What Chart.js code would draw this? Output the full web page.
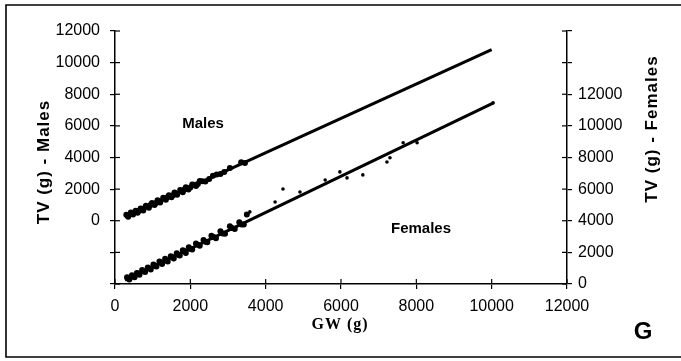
<!DOCTYPE html>
<html>
<head>
<meta charset="utf-8">
<script src="https://cdn.jsdelivr.net/npm/chart.js@4"></script>
<style>
  body { margin: 0; background: #fff; }
  #wrap { width: 681px; height: 361px; }
</style>
</head>
<body>
<div id="wrap"><canvas id="tvChart"></canvas></div>
<script>
// gutted weight vs total weight, males on the left axis, females on the right
const maleGW = [300, 330, 350, 420, 450, 480, 520, 550, 600, 640, 680, 720, 750, 820, 860, 900, 940, 980, 1050, 1090, 1130, 1170, 1200, 1280, 1320, 1350, 1390,
  1430, 1500, 1540, 1580, 1610, 1650, 1730, 1770, 1800, 1840, 1880, 1950, 2000, 2050, 2100, 2150, 2200, 2250, 2320, 2400, 2500, 2600, 2700, 2800, 2900, 3050, 3350, 3450];
const maleTV = [380, 330, 250, 520, 430, 400, 540, 640, 500, 630, 780, 760, 650, 950, 880, 820, 1000, 1130, 990, 1120, 1300, 1250, 1150, 1460, 1370, 1330, 1490,
  1620, 1480, 1610, 1790, 1730, 1640, 1950, 1860, 1800, 1980, 2120, 1980, 2110, 2300, 2270, 2200, 2320, 2520, 2500, 2480, 2640, 2850, 2930, 2950, 3080, 3330, 3700, 3650];

const femaleGW = [320, 350, 380, 450, 480, 520, 580, 610, 650, 720, 760, 800, 870, 900, 950, 1020, 1060, 1100, 1180, 1210, 1250, 1330, 1360, 1400, 1480, 1520, 1560,
  1640, 1680, 1720, 1800, 1840, 1880, 1960, 2000, 2050, 2150, 2200, 2250, 2350, 2400, 2450, 2560, 2620, 2680, 2800, 2860, 2920, 3050, 3110, 3180, 3300, 3360, 3420, 3500,
  3580, 4250, 4460, 4910, 5580, 5970, 6160, 6580, 7220, 7300, 7650, 8020, 10040];
const femaleTV = [420, 360, 280, 560, 470, 430, 700, 670, 590, 880, 800, 760, 1050, 1000, 920, 1230, 1140, 1100, 1420, 1360, 1270, 1590, 1480, 1430, 1760, 1710, 1620,
  1950, 1850, 1800, 2130, 2080, 1960, 2330, 2210, 2180, 2560, 2490, 2420, 2780, 2670, 2640, 3050, 2980, 2900, 3330, 3190, 3180, 3650, 3540, 3480, 3900, 3770, 3760, 4400,
  4560, 5190, 6010, 5820, 6580, 7090, 6710, 6900, 7720, 7980, 8930, 8930, 11460];

// regression lines (end points)
const maleFitGW = [270, 10000];
const maleFitTV = [250, 10820];
const femaleFitGW = [265, 10050];
const femaleFitTV = [250, 11450];

const xTicks = [0, 2000, 4000, 6000, 8000, 10000, 12000];

function pairs(xs, ys) {
  return xs.map((x, i) => ({ x: x, y: ys[i] }));
}

// the heavy cluster of small fish gets bigger dots, the odd large ones small marks
const dotSize = c => (c.raw && c.raw.x > 3550 ? 1.8 : 3);

const tickFont = { family: 'Liberation Sans, Arial, sans-serif', size: 16 };

// short tick marks on the inside of each axis so they cross the line
const innerTicks = {
  id: 'innerTicks',
  afterDraw(chart) {
    const ctx = chart.ctx;
    const area = chart.chartArea;
    ctx.save();
    ctx.strokeStyle = '#000';
    ctx.lineWidth = 1.2;
    ['x', 'y', 'y2'].forEach(id => {
      const s = chart.scales[id];
      s.ticks.forEach((t, i) => {
        const p = s.getPixelForTick(i);
        ctx.beginPath();
        if (id === 'x') { ctx.moveTo(p, area.bottom); ctx.lineTo(p, area.bottom - 5); }
        else if (id === 'y') { ctx.moveTo(area.left, p); ctx.lineTo(area.left + 5, p); }
        else { ctx.moveTo(area.right, p); ctx.lineTo(area.right - 5, p); }
        ctx.stroke();
      });
    });
    ctx.restore();
  }
};

// frame, axis titles and labels
const annotations = {
  id: 'annotations',
  afterDraw(chart) {
    const ctx = chart.ctx;
    ctx.save();
    ctx.strokeStyle = '#000';
    ctx.lineWidth = 1.6;
    ctx.beginPath();
    ctx.moveTo(681, 5); ctx.lineTo(6, 5); ctx.lineTo(6, 357); ctx.lineTo(681, 357);
    ctx.stroke();

    ctx.fillStyle = '#000';
    ctx.textAlign = 'center';
    ctx.textBaseline = 'middle';

    ctx.font = 'bold 17px Liberation Sans, Arial, sans-serif';
    ctx.letterSpacing = '1px';
    ctx.save();
    ctx.translate(44, 162);
    ctx.rotate(-Math.PI / 2);
    ctx.fillText('TV (g) - Males', 0, 0);
    ctx.restore();
    ctx.save();
    ctx.translate(652, 129);
    ctx.rotate(-Math.PI / 2);
    ctx.fillText('TV (g) - Females', 0, 0);
    ctx.restore();

    ctx.font = 'bold 16px Liberation Serif, Times New Roman, serif';
    ctx.fillText('GW (g)', 340, 325);

    ctx.letterSpacing = '0px';
    ctx.font = 'bold 15px Liberation Sans, Arial, sans-serif';
    ctx.fillText('Males', 203, 124);
    ctx.fillText('Females', 421, 229);

    ctx.font = 'bold 24px Liberation Sans, Arial, sans-serif';
    ctx.fillText('G', 643, 332);
    ctx.restore();
  }
};

new Chart(document.getElementById('tvChart'), {
  type: 'scatter',
  data: {
    datasets: [
      {
        label: 'Males',
        data: pairs(maleGW, maleTV),
        yAxisID: 'y',
        backgroundColor: '#000',
        borderColor: '#000',
        pointRadius: dotSize,
        borderWidth: 0
      },
      {
        label: 'Males fit',
        data: pairs(maleFitGW, maleFitTV),
        yAxisID: 'y',
        showLine: true,
        borderColor: '#000',
        borderWidth: 3,
        pointRadius: 0
      },
      {
        label: 'Females',
        data: pairs(femaleGW, femaleTV),
        yAxisID: 'y2',
        backgroundColor: '#000',
        borderColor: '#000',
        pointRadius: dotSize,
        borderWidth: 0
      },
      {
        label: 'Females fit',
        data: pairs(femaleFitGW, femaleFitTV),
        yAxisID: 'y2',
        showLine: true,
        borderColor: '#000',
        borderWidth: 3,
        pointRadius: 0
      }
    ]
  },
  options: {
    responsive: true,
    maintainAspectRatio: false,
    animation: false,
    layout: { padding: { top: 31, left: 0, right: 0, bottom: 0 } },
    plugins: {
      legend: { display: false },
      tooltip: { enabled: false }
    },
    scales: {
      x: {
        type: 'linear',
        min: 0,
        max: 12000,
        afterBuildTicks: s => { s.ticks = xTicks.map(v => ({ value: v })); },
        afterFit: s => { s.height = 77; },
        ticks: { font: tickFont, color: '#000', padding: 8, maxRotation: 0, callback: v => String(v) },
        grid: { drawOnChartArea: false, tickLength: 5, color: '#000', lineWidth: 1.2 },
        border: { color: '#000', width: 1.5 }
      },
      y: {
        position: 'left',
        min: -4000,
        max: 12000,
        afterFit: s => { s.width = 115; },
        ticks: { stepSize: 2000, font: tickFont, color: '#000', padding: 10, callback: v => v < 0 ? '' : String(v) },
        grid: { drawOnChartArea: false, tickLength: 5, color: '#000', lineWidth: 1.2 },
        border: { color: '#000', width: 1.5 }
      },
      y2: {
        position: 'right',
        min: 0,
        max: 16000,
        afterFit: s => { s.width = 114; },
        ticks: { stepSize: 2000, font: tickFont, color: '#000', padding: 6, callback: v => v > 12000 ? '' : String(v) },
        grid: { drawOnChartArea: false, tickLength: 5, color: '#000', lineWidth: 1.2 },
        border: { color: '#000', width: 1.5 }
      }
    }
  },
  plugins: [innerTicks, annotations]
});
</script>
</body>
</html>
